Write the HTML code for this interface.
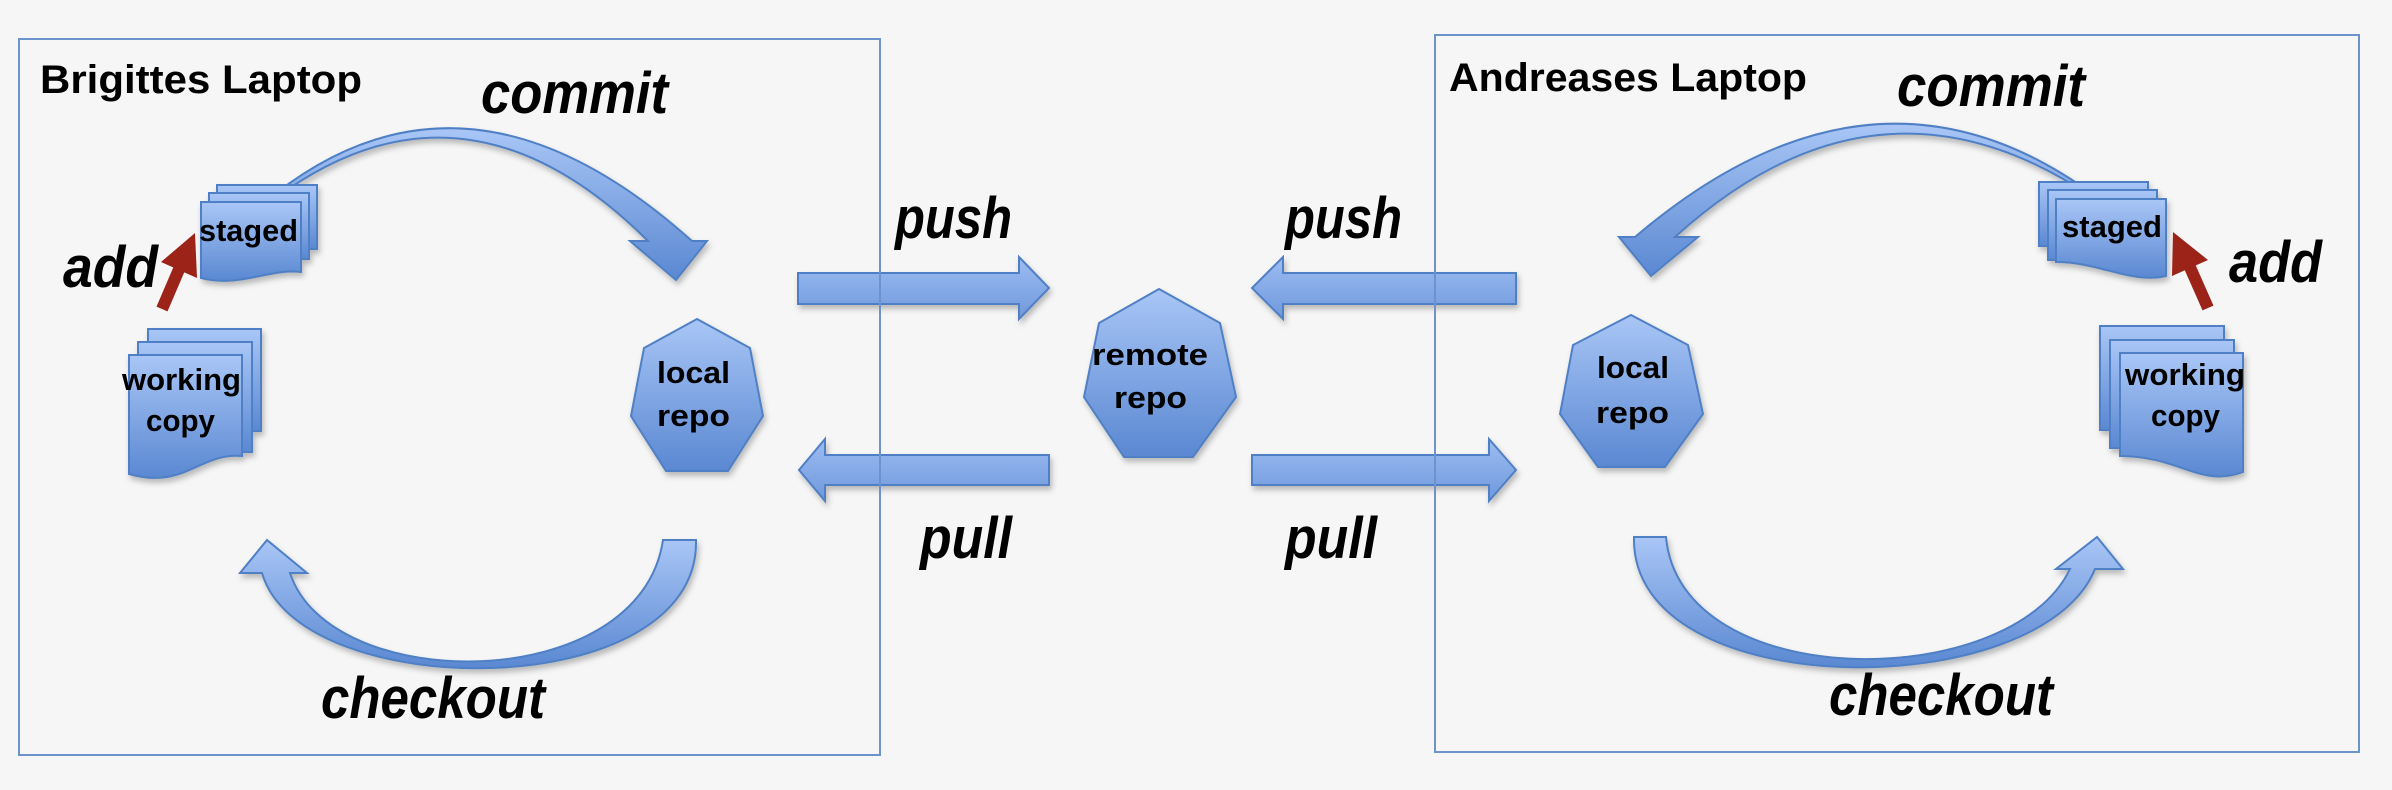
<!DOCTYPE html>
<html><head><meta charset="utf-8"><style>
html,body{margin:0;padding:0;background:#f6f6f6;}
svg{display:block}
text{font-family:"Liberation Sans",sans-serif;font-weight:bold;fill:#000}
.it{font-style:italic}
</style></head><body>
<svg width="2392" height="790" viewBox="0 0 2392 790" xmlns="http://www.w3.org/2000/svg">
<defs>
<linearGradient id="g" x1="0" y1="0" x2="0" y2="1">
<stop offset="0" stop-color="#a9c6f6"/><stop offset="1" stop-color="#5a88d2"/></linearGradient>
<linearGradient id="gh" x1="0" y1="0" x2="0" y2="1">
<stop offset="0" stop-color="#9dbdf2"/><stop offset="1" stop-color="#6f98dc"/></linearGradient>
<filter id="sh" x="-20%" y="-20%" width="140%" height="140%"><feDropShadow dx="2" dy="4" stdDeviation="3" flood-color="#000" flood-opacity="0.25"/></filter>
</defs>
<rect width="2392" height="790" fill="#f6f6f6"/>

<g fill="url(#g)" stroke="#4f7fc4" stroke-width="2" filter="url(#sh)">
<path d="M275 194 Q470 42 692 241 L707 241 L676 280 L630 241 L648 241 Q470 64 287 190 Z"/>
<path d="M696 540 C700 705 300 705 262 573 L240 573 L267 540 L307 573 L290 573 C330 696 640 696 663 540 Z"/>
<path d="M2087 190 Q1870 37 1635 237 L1619 237 L1651 276 L1698 237 L1675 237 Q1870 60 2075 186 Z"/>
<path d="M1634 537 C1630 705 2040 705 2095 569 L2123 569 L2097 537 L2056 569 L2070 569 C2010 694 1680 694 1666 537 Z"/>

<path fill="url(#gh)" d="M798 273 H1019 V257 L1049 288 L1019 319 V304 H798 Z"/>
<path fill="url(#gh)" d="M1516 273 H1283 V257 L1252 288 L1283 319 V304 H1516 Z"/>
<path fill="url(#gh)" d="M1049 455 H825 V439 L799 470 L825 501 V485 H1049 Z"/>
<path fill="url(#gh)" d="M1252 455 H1489 V439 L1516 470 L1489 501 V485 H1252 Z"/>

<polygon points="697,319 750,348 763,416 728,471 666,471 631,416 644,348"/>
<polygon points="1159,289 1220,323 1236,397 1193,457 1124,457 1084,397 1099,323"/>
<polygon points="1631,315 1688,345 1703,414 1665,467 1598,467 1560,414 1573,345"/>

<rect x="217" y="185" width="100" height="64"/>
<rect x="209" y="193" width="100" height="66"/>
<path d="M201 202 H301 V272 C270 268 240 288 201 278 Z"/>
<rect x="148" y="329" width="113" height="102"/>
<rect x="138" y="342" width="114" height="110"/>
<path d="M129 355 H242 V456 C200 452 185 490 129 474 Z"/>
<rect x="2039" y="182" width="109" height="64"/>
<rect x="2048" y="190" width="109" height="70"/>
<path d="M2056 199 H2166 V276 C2130 284 2100 262 2056 262 Z"/>
<rect x="2100" y="326" width="124" height="104"/>
<rect x="2110" y="340" width="124" height="108"/>
<path d="M2120 353 H2243 V472 C2200 488 2180 456 2120 456 Z"/>
</g>

<g fill="#9b2318">
<line x1="162" y1="309" x2="180" y2="267" stroke="#9b2318" stroke-width="12"/>
<polygon points="195,233 197,278 161,262"/>
<line x1="2208" y1="308" x2="2189" y2="265" stroke="#9b2318" stroke-width="12"/>
<polygon points="2173,232 2208,260 2172,276"/>
</g>

<rect x="19" y="39" width="861" height="716" fill="none" stroke="#6d93cc" stroke-width="2"/>
<rect x="1435" y="35" width="924" height="717" fill="none" stroke="#6d93cc" stroke-width="2"/>

<text x="40" y="93" font-size="40" textLength="322" lengthAdjust="spacingAndGlyphs">Brigittes Laptop</text>
<text x="1449" y="91" font-size="40" textLength="358" lengthAdjust="spacingAndGlyphs">Andreases Laptop</text>

<g class="it" font-size="58">
<text class="it" x="481" y="113" textLength="187" lengthAdjust="spacingAndGlyphs">commit</text>
<text class="it" x="1897" y="106" textLength="188" lengthAdjust="spacingAndGlyphs">commit</text>
<text class="it" x="63" y="287" textLength="95" lengthAdjust="spacingAndGlyphs">add</text>
<text class="it" x="2229" y="282" textLength="93" lengthAdjust="spacingAndGlyphs">add</text>
<text class="it" x="321" y="718" textLength="224" lengthAdjust="spacingAndGlyphs">checkout</text>
<text class="it" x="1829" y="715" textLength="224" lengthAdjust="spacingAndGlyphs">checkout</text>
<text class="it" x="895" y="238" textLength="117" lengthAdjust="spacingAndGlyphs">push</text>
<text class="it" x="1285" y="238" textLength="117" lengthAdjust="spacingAndGlyphs">push</text>
<text class="it" x="920" y="558" textLength="92" lengthAdjust="spacingAndGlyphs">pull</text>
<text class="it" x="1285" y="558" textLength="92" lengthAdjust="spacingAndGlyphs">pull</text>
</g>

<g font-size="31">
<text x="199" y="241" textLength="99" lengthAdjust="spacingAndGlyphs">staged</text>
<text x="2062" y="237" textLength="100" lengthAdjust="spacingAndGlyphs">staged</text>
<text x="122" y="390" textLength="119" lengthAdjust="spacingAndGlyphs">working</text>
<text x="146" y="431" textLength="69" lengthAdjust="spacingAndGlyphs">copy</text>
<text x="2125" y="385" textLength="120" lengthAdjust="spacingAndGlyphs">working</text>
<text x="2151" y="426" textLength="69" lengthAdjust="spacingAndGlyphs">copy</text>
<text x="657" y="383" textLength="73" lengthAdjust="spacingAndGlyphs">local</text>
<text x="657" y="426" textLength="73" lengthAdjust="spacingAndGlyphs">repo</text>
<text x="1597" y="378" textLength="72" lengthAdjust="spacingAndGlyphs">local</text>
<text x="1596" y="423" textLength="73" lengthAdjust="spacingAndGlyphs">repo</text>
<text x="1092" y="365" textLength="116" lengthAdjust="spacingAndGlyphs">remote</text>
<text x="1114" y="408" textLength="73" lengthAdjust="spacingAndGlyphs">repo</text>
</g>
</svg>
</body></html>
